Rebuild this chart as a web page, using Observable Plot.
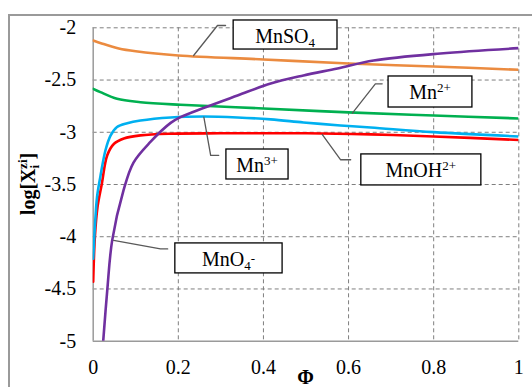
<!DOCTYPE html>
<html><head><meta charset="utf-8">
<script src="https://cdn.jsdelivr.net/npm/d3@7"></script>
<script src="https://cdn.jsdelivr.net/npm/@observablehq/plot@0.6"></script>
<style>
html,body{margin:0;padding:0;background:#fff;overflow:hidden;width:532px;height:387px}
#frame{position:absolute;left:8px;top:14px;width:600px;height:500px;border-top:2px solid #9a9a9a;border-left:2px solid #9a9a9a}
#chart{position:absolute;left:0;top:0}
#chart svg, #chart svg text, #chart svg tspan{font-family:"Liberation Serif","Times New Roman",serif !important}
</style></head><body><div id="frame"></div><div id="chart"></div>
<script>
// ---- data ----
const xTicks = [0, 0.2, 0.4, 0.6, 0.8, 1];
const yTicks = [-5, -4.5, -4, -3.5, -3, -2.5, -2];

const seriesNames = ["MnSO4", "Mn2+", "MnOH2+", "Mn3+", "MnO4-"];

const mnso4Phi = [0, 0.02, 0.06, 0.1, 0.2, 0.4, 0.6, 0.8, 1];
const mnso4Log = [-2.122, -2.15, -2.198, -2.225, -2.265, -2.303, -2.342, -2.370, -2.402];

const mn2Phi = [0, 0.017, 0.056, 0.111, 0.205, 0.4, 0.6, 0.8, 1];
const mn2Log = [-2.584, -2.616, -2.68, -2.712, -2.737, -2.772, -2.81, -2.839, -2.868];

const mnoh2Phi = [0, 0.004, 0.01, 0.02, 0.033, 0.049, 0.072, 0.111, 0.182, 0.3, 0.5, 0.652, 0.8, 1];
const mnoh2Log = [-4.43, -4.0, -3.72, -3.5, -3.22, -3.11, -3.06, -3.03, -3.014, -3.01, -3.01, -3.02, -3.04, -3.074];

const mn3Phi = [0, 0.004, 0.009, 0.017, 0.029, 0.041, 0.056, 0.08, 0.111, 0.182, 0.26, 0.339, 0.417, 0.494, 0.581, 0.652, 0.8, 1];
const mn3Log = [-4.21, -3.9, -3.62, -3.42, -3.17, -3.03, -2.95, -2.913, -2.887, -2.858, -2.849, -2.858, -2.877, -2.906, -2.935, -2.954, -2.999, -3.04];

const mno4Phi = [0.0235, 0.033, 0.0446, 0.0712, 0.0947, 0.135, 0.182, 0.205, 0.259, 0.339, 0.417, 0.494, 0.574, 0.659, 0.816, 1];
const mno4Log = [-5.0, -4.514, -4.035, -3.557, -3.29, -3.09, -2.91, -2.855, -2.768, -2.648, -2.533, -2.456, -2.389, -2.313, -2.246, -2.195];

// annotation labels (text parts)
const labelBase = ["MnSO", "Mn", "Mn", "MnOH", "MnO"];
const labelSub  = ["4", "", "", "", "4"];
const labelSup  = ["", "2+", "3+", "2+", "-"];
// annotation boxes in data units
const boxX1 = [0.330, 0.694, 0.313, 0.630, 0.193];
const boxX2 = [0.574, 0.891, 0.459, 0.912, 0.445];
const boxY1 = [-1.930, -2.466, -3.165, -3.212, -4.064];
const boxY2 = [-2.208, -2.763, -3.452, -3.509, -4.351];
// leader lines in data units
const leaderPhi = [[0.236, 0.292, 0.311], [0.609, 0.663, 0.679], [0.260, 0.276, 0.295], [0.538, 0.581, 0.605], [0.048, 0.158, 0.175]];
const leaderLog = [[-2.265, -1.978, -1.978], [-2.817, -2.536, -2.536], [-2.855, -3.221, -3.221], [-3.021, -3.263, -3.263], [-4.035, -4.117, -4.117]];

// ---- styles ----
const seriesColors = ["#EB8B40", "#00B050", "#FF0000", "#00B0F0", "#7030A0"];

const seriesData = [
  [mnso4Phi, mnso4Log], [mn2Phi, mn2Log], [mnoh2Phi, mnoh2Log], [mn3Phi, mn3Log], [mno4Phi, mno4Log]
];
const rows = seriesData.flatMap(([p, l], i) => p.map((v, j) => ({name: seriesNames[i], phi: v, log: l[j]})));
const boxes = labelBase.map((b, i) => ({i, x1: boxX1[i], x2: boxX2[i], y1: boxY1[i], y2: boxY2[i]}));
const leaders = leaderPhi.flatMap((p, i) => p.map((v, j) => ({i, phi: v, log: leaderLog[i][j]})));

const fmt = d => String(d);
const plot = Plot.plot({
  width: 532, height: 387,
  marginLeft: 92.7, marginRight: 13.7, marginTop: 27.3, marginBottom: 46.3,
  style: {fontFamily: "Liberation Serif, serif", fontSize: "20px", color: "#000", background: "transparent", overflow: "visible"},
  x: {domain: [0, 1]},
  y: {domain: [-5, -2]},
  color: {domain: seriesNames, range: seriesColors},
  marks: [
    Plot.gridX(xTicks.filter(d => d > 0), {stroke: "#7f7f7f", strokeOpacity: 1, strokeDasharray: "4 3", strokeWidth: 1}),
    Plot.gridY(yTicks.filter(d => d > -5), {stroke: "#7f7f7f", strokeOpacity: 1, strokeDasharray: "4 3", strokeWidth: 1}),
    Plot.ruleX([0], {stroke: "#9a9a9a", strokeWidth: 1.5}),
    Plot.ruleY([-5], {stroke: "#9a9a9a", strokeWidth: 1.5}),
    Plot.axisX(xTicks, {tickSize: 0, tickPadding: 19, label: null, tickFormat: fmt, fontSize: 20}),
    Plot.axisY(yTicks, {tickSize: 0, tickPadding: 17, label: null, tickFormat: fmt, fontSize: 20}),
    Plot.line(rows, {x: "phi", y: "log", z: "name", stroke: "name", strokeWidth: 2.6, curve: "catmull-rom", clip: true}),
    Plot.line(leaders, {x: "phi", y: "log", z: "i", stroke: "#595959", strokeWidth: 1.3}),
    Plot.rect(boxes, {x1: "x1", x2: "x2", y1: "y1", y2: "y2", fill: "#fff", stroke: "#000", strokeWidth: 1.3})
  ]
});
document.getElementById("chart").appendChild(plot);

const sx = plot.scale("x"), sy = plot.scale("y");
const svg = d3.select(plot);
const g = svg.append("g").attr("font-size", 20).attr("fill", "#000");
labelBase.forEach((b, i) => {
  const cx = (sx.apply(boxX1[i]) + sx.apply(boxX2[i])) / 2;
  const cy = (sy.apply(boxY1[i]) + sy.apply(boxY2[i])) / 2;
  const t = g.append("text").attr("x", cx).attr("y", cy + 8).attr("text-anchor", "middle");
  t.append("tspan").text(b);
  if (labelSub[i]) t.append("tspan").attr("font-size", 13).attr("dy", 4).text(labelSub[i]);
  if (labelSup[i]) t.append("tspan").attr("font-size", 13).attr("dy", -7).text(labelSup[i]);
});

// axis titles
const yl = svg.append("text").attr("transform", "translate(35,184) rotate(-90)")
  .attr("text-anchor", "middle").attr("font-size", 20).attr("font-weight", "bold");
yl.append("tspan").text("log[X");
yl.append("tspan").attr("font-size", 13).attr("dy", 4).text("i");
yl.append("tspan").attr("font-size", 13).attr("dx", -4).attr("dy", -12).text("zi");
yl.append("tspan").attr("dy", 8).text("]");
svg.append("text").attr("x", (sx.apply(0) + sx.apply(1)) / 2).attr("y", 384)
  .attr("text-anchor", "middle").attr("font-size", 20).attr("font-weight", "bold").text("Φ");
</script></body></html>
